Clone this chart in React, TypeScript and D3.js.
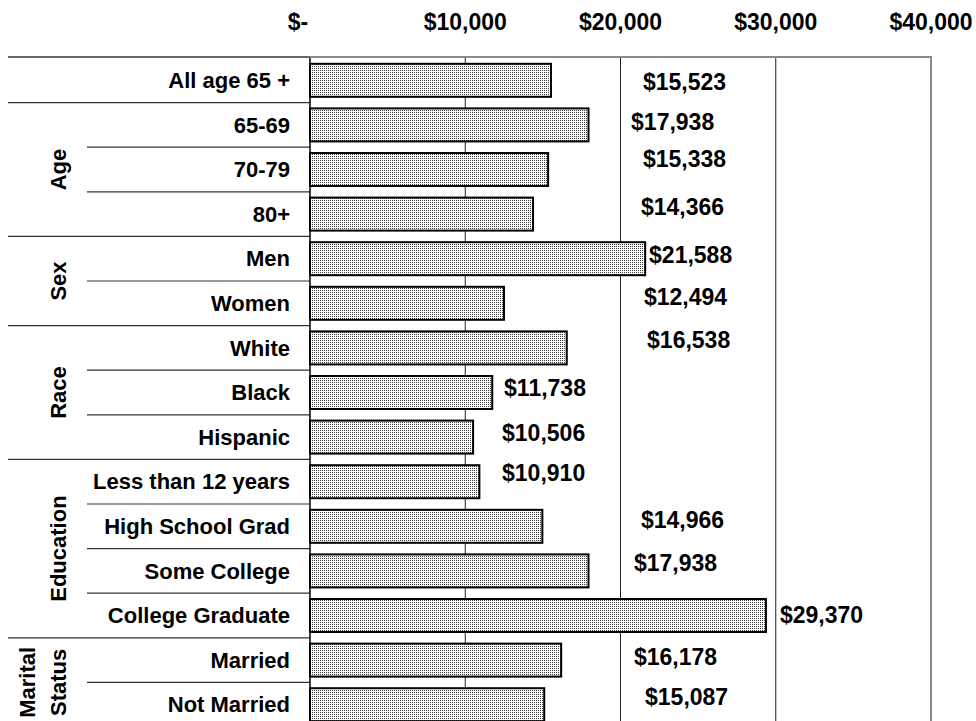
import React from 'react';
import { scaleBand, scaleLinear } from 'd3';

const categories = [
  'All age 65 +', '65-69', '70-79', '80+', 'Men', 'Women', 'White', 'Black', 'Hispanic',
  'Less than 12 years', 'High School Grad', 'Some College', 'College Graduate', 'Married', 'Not Married',
];
const incomes = [15523, 17938, 15338, 14366, 21588, 12494, 16538, 11738, 10506, 10910, 14966, 17938, 29370, 16178, 15087];
const groupNames = ['', 'Age', 'Sex', 'Race', 'Education', 'Marital Status'];
const groupSizes = [1, 3, 2, 3, 4, 2];
const tickValues = [0, 10000, 20000, 30000, 40000];
const tickLabels = ['$-', '$10,000', '$20,000', '$30,000', '$40,000'];
// where the value labels were dragged to in the original (dollars along x, px nudge in y)
const labelAt = [21450, 20680, 21450, 21320, 21840, 21510, 21710, 12500, 12370, 12370, 21320, 20870, 30270, 20870, 21580];
const labelNudge = [2, -3, -11, -7, -4, -6, -8, -5, -4, -9, -6, -8, -1, -3, -8];

const width = 976;
const height = 721;
const font = '"Liberation Sans", Arial, sans-serif';

const App = () => {
  const x = scaleLinear().domain([0, 40000]).range([310, 931]);
  const y = scaleBand<string>()
    .domain(categories.map((d, i) => i + ''))
    .range([58, 58 + 44.6 * categories.length])
    .paddingInner(0.26)
    .paddingOuter(0.13);
  const step = y.step();
  const top = 58;
  const bottom = 58 + step * categories.length;

  // group boundaries
  let start = 0;
  const groups = groupNames.map((name, g) => {
    const s = start;
    start += groupSizes[g];
    return { name, s, e: start };
  });

  return (
    <svg width={width} height={height} style={{ position: 'absolute', left: 0, top: 0, background: '#fff' }}
      fontFamily={font} fontWeight="bold" fontSize={22}>
      <defs>
        <pattern id="dots" width={2} height={2} patternUnits="userSpaceOnUse">
          <rect width={2} height={2} fill="#fff" />
          <rect width={1} height={1} fill="#3a3a3a" />
        </pattern>
      </defs>

      {tickValues.map((t, i) => (
        <text key={t} x={x(t) + (t === 0 ? -12 : 0)} y={30} fontSize={23} textAnchor="middle" fill="#000">{tickLabels[i]}</text>
      ))}

      {/* gridlines */}
      {tickValues.slice(1, 4).map(t => (
        <line key={t} x1={x(t)} x2={x(t)} y1={top} y2={bottom} stroke="#222" strokeWidth={1} />
      ))}
      <line x1={x(40000)} x2={x(40000)} y1={top - 1} y2={bottom} stroke="#8a8a8a" strokeWidth={2} />
      <line x1={310} x2={x(40000) + 1} y1={top - 1} y2={top - 1} stroke="#8a8a8a" strokeWidth={2} />
      <line x1={8} x2={310} y1={top - 1} y2={top - 1} stroke="#333" strokeWidth={1.5} />

      {/* left table lines */}
      {categories.map((c, i) => {
        if (i === 0) return null;
        const isGroupStart = groups.some(g => g.s === i);
        const yy = top + step * i;
        return <line key={c} x1={isGroupStart ? 8 : 87} x2={310} y1={yy} y2={yy} stroke="#333" strokeWidth={1.2} />;
      })}

      {/* bars */}
      {incomes.map((v, i) => (
        <rect key={i} x={x(0)} y={y(i + '')} width={x(v) - x(0)} height={y.bandwidth()}
          fill="url(#dots)" stroke="#000" strokeWidth={2} />
      ))}
      <line x1={x(0)} x2={x(0)} y1={top} y2={bottom} stroke="#000" strokeWidth={1.5} />

      {/* category labels */}
      {categories.map((c, i) => (
        <text key={c} x={290} y={(y(i + '') || 0) + y.bandwidth() / 2} dy="0.35em" textAnchor="end">{c}</text>
      ))}

      {/* group labels */}
      {groups.filter(g => g.name).map(g => {
        const cy = top + step * (g.s + g.e) / 2;
        const lines = g.name === 'Marital Status' ? ['Marital', 'Status'] : [g.name];
        return (
          <text key={g.name} transform={`translate(58,${cy}) rotate(-90)`} textAnchor="middle">
            {lines.map((l, k) => (
              <tspan key={l} x={0} y={(k - lines.length + 1) * 31} dy="0.35em">{l}</tspan>
            ))}
          </text>
        );
      })}

      {/* value labels */}
      {incomes.map((v, i) => (
        <text key={i} x={x(labelAt[i])} y={(y(i + '') || 0) + y.bandwidth() / 2 + labelNudge[i]} dy="0.35em" fontSize={23}>
          {'$' + v.toLocaleString('en-US')}
        </text>
      ))}
    </svg>
  );
};

export default App;
